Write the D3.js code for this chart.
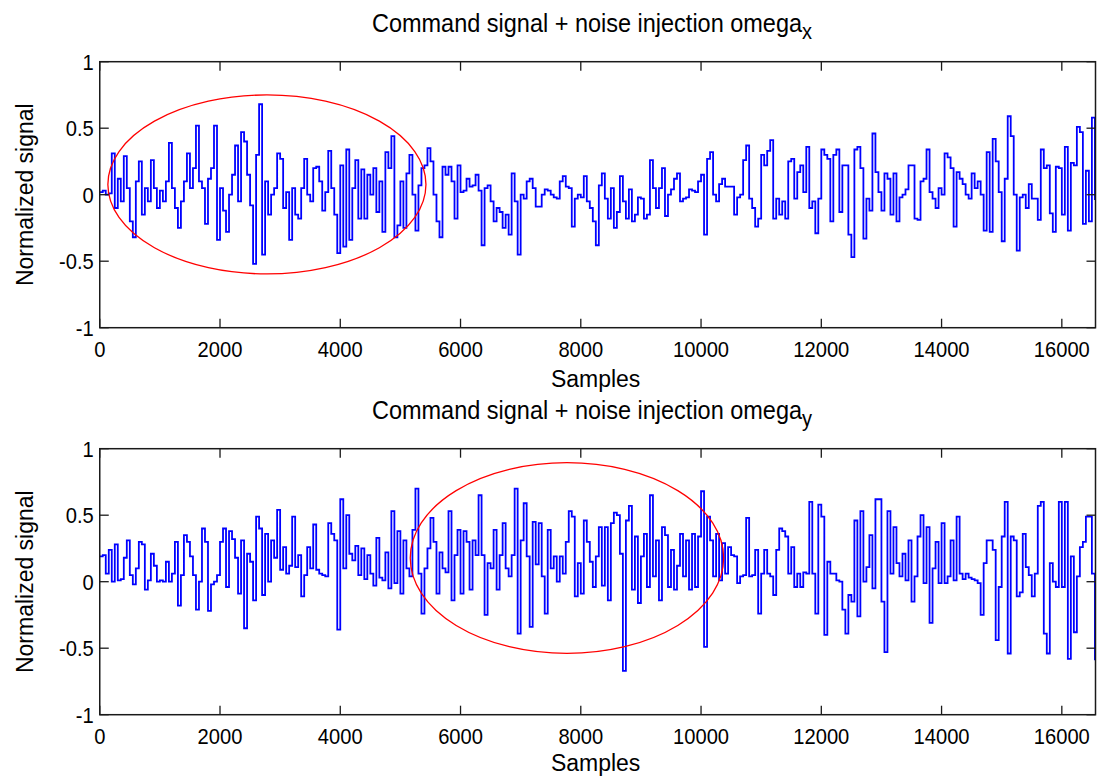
<!DOCTYPE html>
<html>
<head>
<meta charset="utf-8">
<script src="https://cdn.jsdelivr.net/npm/d3@7"></script>
<style>
  body { margin: 0; background: #fff; }
  svg { display: block; }
  text { font-family: "Liberation Sans", Arial, sans-serif; fill: #000; }
</style>
</head>
<body>
<svg id="chart" width="1097" height="778"></svg>
<script>
// Samples between consecutive stored readings of each channel
const STEP = 50;
const SAMPLE_MAX = 16560;

// Command signal + noise on the x channel (one reading every STEP samples)
const omegaX = [
  0.02, 0.03, 0.0, 0.01, 0.31, -0.1, 0.12, -0.05, 0.29, 0.05,
  -0.2, -0.32, 0.1, 0.25, -0.15, 0.05, -0.05, 0.26, 0.05, -0.1,
  0.03, -0.05, 0.1, 0.39, 0.05, -0.1, -0.25, -0.05, 0.1, 0.31,
  0.05, 0.2, 0.52, 0.1, 0.05, -0.22, 0.12, 0.2, 0.52, -0.34,
  0.05, -0.12, -0.28, 0.0, 0.15, 0.37, -0.05, 0.47, 0.4, 0.15,
  -0.08, -0.52, 0.3, 0.68, -0.45, 0.1, -0.15, 0.0, 0.05, 0.31,
  0.27, -0.1, 0.02, -0.34, 0.05, -0.15, -0.18, 0.05, 0.27, 0.0,
  -0.05, 0.2, 0.21, 0.1, -0.12, 0.02, 0.33, 0.05, -0.15, -0.44,
  0.22, -0.39, 0.34, -0.34, 0.05, 0.26, -0.18, 0.19, -0.18, 0.15,
  0.0, 0.2, -0.13, 0.1, -0.28, 0.32, 0.2, 0.44, -0.32, -0.23,
  0.1, -0.25, 0.16, 0.3, 0.0, -0.27, 0.07, 0.2, 0.22, 0.35,
  0.25, 0.0, -0.2, -0.32, 0.21, 0.15, 0.21, 0.1, -0.18, 0.22,
  0.02, 0.03, 0.12, 0.06, 0.07, 0.15, 0.03, -0.38, 0.05, 0.07,
  -0.05, -0.2, -0.1, -0.13, -0.25, -0.15, -0.3, 0.16, -0.05, -0.45,
  0.0, -0.03, 0.1, 0.12, 0.05, -0.09, -0.09, 0.0, 0.04, 0.03,
  0.0, -0.02, -0.03, 0.1, 0.14, 0.06, 0.05, -0.24, -0.03, 0.0,
  -0.02, 0.14, -0.05, -0.1, -0.2, -0.38, 0.07, 0.16, -0.03, -0.18,
  0.05, -0.25, -0.13, 0.14, -0.05, -0.18, 0.04, -0.2, -0.15, -0.02,
  -0.03, -0.18, -0.15, 0.26, 0.05, -0.1, 0.05, 0.2, -0.16, 0.0,
  0.04, 0.12, 0.16, -0.05, -0.03, -0.02, 0.04, 0.03, 0.02, 0.1,
  0.15, -0.3, 0.27, 0.32, 0.0, -0.05, 0.08, 0.12, 0.06, 0.06,
  0.06, -0.15, -0.02, 0.0, 0.26, 0.37, -0.03, -0.1, -0.24, -0.18,
  0.3, 0.22, 0.33, 0.41, -0.18, -0.03, -0.15, -0.05, -0.18, 0.25,
  0.27, -0.03, 0.17, 0.22, 0.02, 0.36, -0.1, -0.05, -0.29, -0.03,
  0.34, 0.3, 0.27, -0.2, 0.3, 0.34, -0.13, 0.22, 0.22, -0.3,
  -0.47, 0.34, 0.36, 0.2, -0.33, -0.03, -0.12, 0.46, 0.17, 0.02,
  -0.12, 0.16, 0.12, -0.15, 0.16, -0.2, -0.02, 0.0, 0.04, 0.22,
  0.22, -0.18, -0.19, 0.1, 0.12, 0.34, 0.02, -0.03, -0.1, 0.05,
  0.0, 0.31, 0.28, 0.2, -0.24, 0.17, 0.12, 0.08, 0.0, -0.03,
  0.16, 0.05, 0.1, 0.0, -0.27, 0.32, -0.28, 0.42, 0.25, 0.02,
  -0.35, 0.12, 0.59, 0.44, 0.0, -0.42, -0.02, 0.0, -0.1, 0.08,
  -0.03, -0.03, -0.19, 0.34, 0.2, 0.22, -0.14, -0.28, 0.21, 0.2,
  -0.15, 0.36, -0.27, 0.24, 0.22, 0.51, 0.47, -0.22, 0.18, -0.2,
  0.58, -0.04
];

// Command signal + noise on the y channel (one reading every STEP samples)
const omegaY = [
  0.19, 0.2, 0.06, 0.24, 0.0, 0.28, 0.01, 0.02, 0.18, 0.31,
  0.05, -0.02, 0.1, 0.3, 0.28, -0.06, 0.01, 0.21, 0.12, 0.0,
  0.01, 0.0, 0.15, 0.0, 0.06, 0.3, -0.18, 0.05, 0.35, 0.3,
  0.19, 0.05, -0.21, 0.0, 0.4, 0.3, -0.22, -0.02, 0.0, 0.05,
  0.3, 0.4, -0.04, 0.38, 0.32, 0.18, -0.09, 0.31, -0.35, 0.21,
  0.15, -0.14, 0.49, 0.4, -0.1, 0.36, 0.0, 0.31, 0.18, 0.54,
  0.09, 0.26, 0.06, 0.12, 0.49, 0.11, 0.2, -0.11, 0.05, 0.26,
  0.1, 0.43, 0.09, 0.06, 0.05, 0.04, 0.44, 0.36, 0.31, -0.36,
  0.62, 0.1, 0.5, 0.21, 0.16, 0.27, 0.05, 0.25, 0.02, 0.2,
  0.06, -0.03, 0.33, 0.03, 0.01, 0.22, -0.05, 0.53, -0.01, 0.38,
  -0.09, 0.31, 0.1, 0.04, 0.39, 0.7, 0.06, -0.24, 0.1, 0.25,
  0.48, 0.3, -0.09, 0.22, 0.1, 0.07, 0.53, -0.14, 0.2, 0.39,
  -0.09, 0.38, 0.3, -0.06, 0.31, 0.2, 0.65, 0.2, -0.25, 0.14,
  0.1, 0.39, -0.06, 0.2, 0.44, 0.1, 0.04, 0.2, 0.7, -0.39,
  0.31, 0.59, 0.19, -0.34, 0.45, 0.13, 0.44, 0.04, -0.24, 0.39,
  0.1, 0.19, 0.0, 0.19, 0.06, 0.3, 0.53, 0.49, -0.11, 0.14,
  -0.09, 0.46, 0.3, 0.15, -0.04, 0.19, 0.41, -0.03, 0.41, -0.14,
  0.44, 0.52, 0.5, 0.21, -0.67, 0.46, 0.57, -0.06, 0.34, -0.16,
  0.19, 0.36, -0.04, 0.65, 0.04, 0.31, -0.14, 0.41, 0.35, -0.04,
  0.24, -0.06, 0.12, 0.36, 0.04, 0.31, -0.06, 0.36, -0.04, 0.34,
  0.68, -0.49, 0.49, 0.31, 0.04, 0.36, 0.01, 0.29, 0.06, 0.26,
  0.2, 0.19, -0.01, 0.04, 0.05, 0.48, 0.04, 0.05, 0.24, -0.24,
  0.06, 0.24, 0.06, 0.04, -0.1, 0.24, 0.4, 0.38, 0.34, 0.06,
  0.26, -0.04, 0.06, -0.04, 0.07, 0.06, 0.6, 0.06, -0.24, 0.58,
  0.49, -0.4, 0.15, 0.06, 0.06, 0.01, 0.0, -0.21, -0.39, -0.1,
  -0.15, 0.46, -0.26, 0.53, 0.0, 0.11, 0.35, -0.05, 0.62, 0.62,
  -0.15, -0.53, 0.53, 0.06, 0.41, 0.14, 0.04, 0.21, 0.01, 0.31,
  -0.15, 0.04, 0.34, 0.5, -0.01, 0.41, -0.31, 0.1, 0.3, -0.01,
  0.44, -0.01, 0.04, 0.31, 0.01, 0.49, 0.06, 0.02, 0.06, 0.03,
  0.02, 0.01, -0.01, -0.25, 0.14, 0.31, 0.31, 0.24, -0.44, -0.04,
  0.34, 0.6, -0.54, 0.34, 0.31, -0.11, -0.08, 0.36, 0.11, 0.05,
  -0.11, 0.06, 0.57, 0.6, -0.39, -0.54, 0.14, 0.0, -0.04, 0.6,
  -0.04, 0.6, -0.58, 0.19, -0.38, 0.04, 0.26, 0.3, 0.49, 0.49,
  0.06, -0.59
];

// Axis ticks
const xTicks = [0, 2000, 4000, 6000, 8000, 10000, 12000, 14000, 16000];
const yTicks = [-1, -0.5, 0, 0.5, 1];
const yTickLabels = ["-1", "-0.5", "0", "0.5", "1"];

// Panel texts
const titleMain = ["Command signal + noise injection omega", "Command signal + noise injection omega"];
const titleSub = ["x", "y"];
const xLabel = "Samples";
const yLabel = "Normalized signal";

// Highlighted regions (centre sample, centre value, half-width in samples, half-height in value)
const ellipseCx = [2780, 7770];
const ellipseCy = [0.077, 0.178];
const ellipseRx = [2645, 2606];
const ellipseRy = [0.673, 0.717];

const series = [omegaX, omegaY];

const svg = d3.select("#chart");
const left = 99.75, right = 1095.5;
const panels = [
  { top: 61.7, bottom: 327.7 },
  { top: 448.7, bottom: 714.7 }
];
const tickLen = 9;
const axisColor = "#1a1a1a";

const x = d3.scaleLinear().domain([0, SAMPLE_MAX]).range([left, right]);

// slightly tall lettering; sx narrows tick numbers a little
function label(g, px, py, str, size, anchor, rotate, sx = 1) {
  return g.append("text")
    .attr("transform", `translate(${px},${py})${rotate ? " rotate(-90)" : ""} scale(${sx},1.08)`)
    .attr("text-anchor", anchor)
    .attr("font-size", size)
    .text(str);
}

panels.forEach((p, k) => {
  const y = d3.scaleLinear().domain([-1, 1]).range([p.bottom, p.top]);
  const g = svg.append("g");

  // clip the trace to the axes box
  const clipId = "clip" + k;
  g.append("clipPath").attr("id", clipId)
    .append("rect").attr("x", left).attr("y", p.top)
    .attr("width", right - left).attr("height", p.bottom - p.top);

  const line = d3.line()
    .x((d, i) => x(i * STEP))
    .y(d => y(d))
    .curve(d3.curveStepAfter);

  g.append("path")
    .datum(series[k])
    .attr("clip-path", `url(#${clipId})`)
    .attr("fill", "none")
    .attr("stroke", "#0000ff")
    .attr("stroke-width", 1.8)
    .attr("d", line);

  // highlight ellipse
  g.append("ellipse")
    .attr("cx", x(ellipseCx[k]))
    .attr("cy", y(ellipseCy[k]))
    .attr("rx", x(ellipseRx[k]) - x(0))
    .attr("ry", y(0) - y(ellipseRy[k]))
    .attr("fill", "none")
    .attr("stroke", "#ff0000")
    .attr("stroke-width", 1.3);

  // axes box
  g.append("rect")
    .attr("x", left).attr("y", p.top)
    .attr("width", right - left).attr("height", p.bottom - p.top)
    .attr("fill", "none").attr("stroke", axisColor).attr("stroke-width", 1.5);

  // x ticks (inward, bottom and top)
  xTicks.forEach(t => {
    const xx = x(t);
    g.append("line").attr("x1", xx).attr("x2", xx)
      .attr("y1", p.bottom).attr("y2", p.bottom - tickLen)
      .attr("stroke", axisColor).attr("stroke-width", 1.3);
    g.append("line").attr("x1", xx).attr("x2", xx)
      .attr("y1", p.top).attr("y2", p.top + tickLen)
      .attr("stroke", axisColor).attr("stroke-width", 1.3);
    label(g, xx, p.bottom + 29, d3.format("d")(t), 21, "middle", false, 0.96);
  });

  // y ticks (inward, left and right)
  yTicks.forEach((t, j) => {
    const yy = y(t);
    g.append("line").attr("x1", left).attr("x2", left + tickLen)
      .attr("y1", yy).attr("y2", yy)
      .attr("stroke", axisColor).attr("stroke-width", 1.3);
    g.append("line").attr("x1", right).attr("x2", right - tickLen)
      .attr("y1", yy).attr("y2", yy)
      .attr("stroke", axisColor).attr("stroke-width", 1.3);
    label(g, left - 6, yy + 8, yTickLabels[j], 21, "end", false, 0.96);
  });

  // title with subscript
  const title = label(g, 592, p.top - 30, "", 23.5, "middle");
  title.append("tspan").text(titleMain[k]);
  title.append("tspan").attr("dy", 7).attr("font-size", 20).text(titleSub[k]);

  // axis labels
  label(g, (left + right) / 2 - 2, p.bottom + (k === 0 ? 59 : 56), xLabel, 23, "middle");
  label(g, 33, (p.top + p.bottom) / 2, yLabel, 23, "middle", true);
});
</script>
</body>
</html>
